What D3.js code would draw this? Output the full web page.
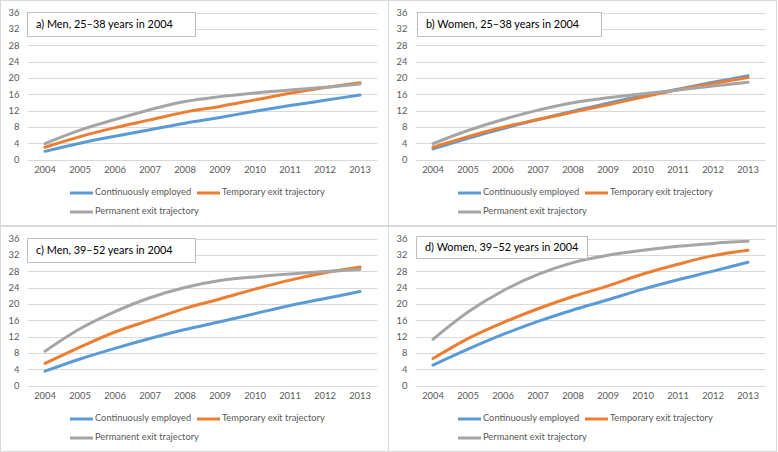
<!DOCTYPE html>
<html>
<head>
<meta charset="utf-8">
<script src="https://cdn.jsdelivr.net/npm/d3@7/dist/d3.min.js"></script>
<style>
  html, body { margin: 0; padding: 0; background: #fff; }
  svg { display: block; font-family: Lato, "Liberation Sans", Arial, sans-serif; }
</style>
</head>
<body>
<svg id="chart" width="778" height="452"></svg>
<script>
const years = ["2004","2005","2006","2007","2008","2009","2010","2011","2012","2013"];
const yTicks = [0, 4, 8, 12, 16, 20, 24, 28, 32, 36];
const seriesNames = ["Continuously employed", "Temporary exit trajectory", "Permanent exit trajectory"];
const seriesColors = ["#5b9bd5", "#ed7d31", "#a5a5a5"];
const panelTitles = ["a) Men, 25\u201338 years in 2004", "b) Women, 25\u201338 years in 2004",
                     "c) Men, 39\u201352 years in 2004", "d) Women, 39\u201352 years in 2004"];

const menYoungContinuous = [2.0, 4.0, 5.7, 7.3, 8.9, 10.3, 11.8, 13.2, 14.5, 15.8];
const menYoungTemporary  = [3.0, 5.6, 7.8, 9.7, 11.6, 13.0, 14.6, 16.2, 17.6, 18.8];
const menYoungPermanent  = [3.9, 7.2, 9.8, 12.2, 14.2, 15.4, 16.3, 17.0, 17.7, 18.5];

const womenYoungContinuous = [2.6, 5.2, 7.6, 9.8, 11.8, 13.8, 15.6, 17.2, 18.9, 20.5];
const womenYoungTemporary  = [3.0, 5.6, 7.9, 9.8, 11.6, 13.4, 15.3, 17.1, 18.6, 20.1];
const womenYoungPermanent  = [3.9, 7.1, 9.8, 12.1, 13.9, 15.1, 16.1, 17.0, 18.0, 18.9];

const menOldContinuous = [3.5, 6.5, 9.1, 11.5, 13.7, 15.6, 17.6, 19.6, 21.3, 23.0];
const menOldTemporary  = [5.4, 9.4, 13.1, 16.0, 18.9, 21.2, 23.6, 25.8, 27.6, 29.0];
const menOldPermanent  = [8.4, 13.9, 18.1, 21.5, 24.0, 25.7, 26.6, 27.3, 27.9, 28.4];

const womenOldContinuous = [5.0, 8.9, 12.5, 15.7, 18.5, 21.0, 23.6, 25.9, 28.0, 30.2];
const womenOldTemporary  = [6.6, 11.5, 15.4, 18.8, 21.8, 24.4, 27.3, 29.7, 31.8, 33.1];
const womenOldPermanent  = [11.3, 18.0, 23.2, 27.2, 30.1, 31.9, 33.1, 34.1, 34.8, 35.3];

const panelsData = [
  [menYoungContinuous, menYoungTemporary, menYoungPermanent],
  [womenYoungContinuous, womenYoungTemporary, womenYoungPermanent],
  [menOldContinuous, menOldTemporary, menOldPermanent],
  [womenOldContinuous, womenOldTemporary, womenOldPermanent]
];

// layout
const panelOrigins = [[0, 0], [388, 0], [0, 226], [388, 226]];
const panelW = 388, panelH = 225;
const titleBoxes = [[27, 12, 168, 24], [29, 12, 184, 24], [27, 12, 168, 24], [28, 10, 171, 22]];
const FONT = "Lato, 'Liberation Sans', Arial, sans-serif";

const svg = d3.select("#chart");
svg.append("rect").attr("x", 0).attr("y", 0).attr("width", 778).attr("height", 452).attr("fill", "#fff");

const x = d3.scaleBand().domain(years).range([27.5, 377.5]);
const y = d3.scaleLinear().domain([0, 36]).range([159.5, 12.5]);

panelsData.forEach((series, pi) => {
  const [ox, oy] = panelOrigins[pi];
  const g = svg.append("g").attr("transform", `translate(${ox},${oy})`);

  g.append("rect").attr("x", 0.5).attr("y", 0.5).attr("width", panelW).attr("height", panelH)
    .attr("fill", "#fff").attr("stroke", "#d9d9d9").attr("stroke-width", 1);

  // gridlines
  g.append("g").selectAll("line").data(yTicks).join("line")
    .attr("x1", x.range()[0]).attr("x2", x.range()[1])
    .attr("y1", d => Math.round(y(d)) + 0.5).attr("y2", d => Math.round(y(d)) + 0.5)
    .attr("stroke", "#d9d9d9").attr("stroke-width", 1);

  // y axis labels
  const yAxis = d3.axisLeft(y).tickValues(yTicks).tickSize(0).tickPadding(0);
  const ya = g.append("g").attr("transform", "translate(19.5,0)").call(yAxis);
  ya.select(".domain").remove();
  ya.selectAll("text").attr("fill", "#595959").attr("font-size", "9.4px")
    .attr("font-family", FONT);

  // x axis labels
  const xAxis = d3.axisBottom(x).tickSize(0).tickPadding(0);
  const xa = g.append("g").attr("transform", "translate(0,166)").call(xAxis);
  xa.select(".domain").remove();
  xa.selectAll("text").attr("fill", "#595959").attr("font-size", "9.4px")
    .attr("font-family", FONT);

  // lines
  const line = d3.line()
    .x((d, i) => x(years[i]) + x.bandwidth() / 2)
    .y(d => y(d))
    .curve(d3.curveCatmullRom.alpha(0.5));
  series.forEach((vals, si) => {
    g.append("path").datum(vals).attr("d", line)
      .attr("fill", "none").attr("stroke", seriesColors[si])
      .attr("stroke-width", 3).attr("stroke-linecap", "round").attr("stroke-linejoin", "round");
  });

  // title box
  const [bx, by, bw, bh] = titleBoxes[pi];
  g.append("rect").attr("x", bx + 0.5).attr("y", by + 0.5).attr("width", bw).attr("height", bh)
    .attr("fill", "#fff").attr("stroke", "#bfbfbf").attr("stroke-width", 1);
  g.append("text").attr("x", bx + 9).attr("y", by + bh / 2 + 1)
    .attr("dominant-baseline", "middle")
    .attr("font-size", "10.9px").attr("fill", "#000")
    .attr("font-family", FONT)
    .text(panelTitles[pi]);

  // legend
  const legendItems = [
    { x: 70, y: 193 }, { x: 197, y: 193 }, { x: 70, y: 212 }
  ];
  legendItems.forEach((it, si) => {
    g.append("line").attr("x1", it.x).attr("x2", it.x + 23)
      .attr("y1", it.y).attr("y2", it.y)
      .attr("stroke", seriesColors[si]).attr("stroke-width", 3);
    g.append("text").attr("x", it.x + 25).attr("y", it.y)
      .attr("dominant-baseline", "middle")
      .attr("font-size", "9.3px").attr("fill", "#595959")
      .attr("font-family", FONT)
      .text(seriesNames[si]);
  });
});
</script>
</body>
</html>
